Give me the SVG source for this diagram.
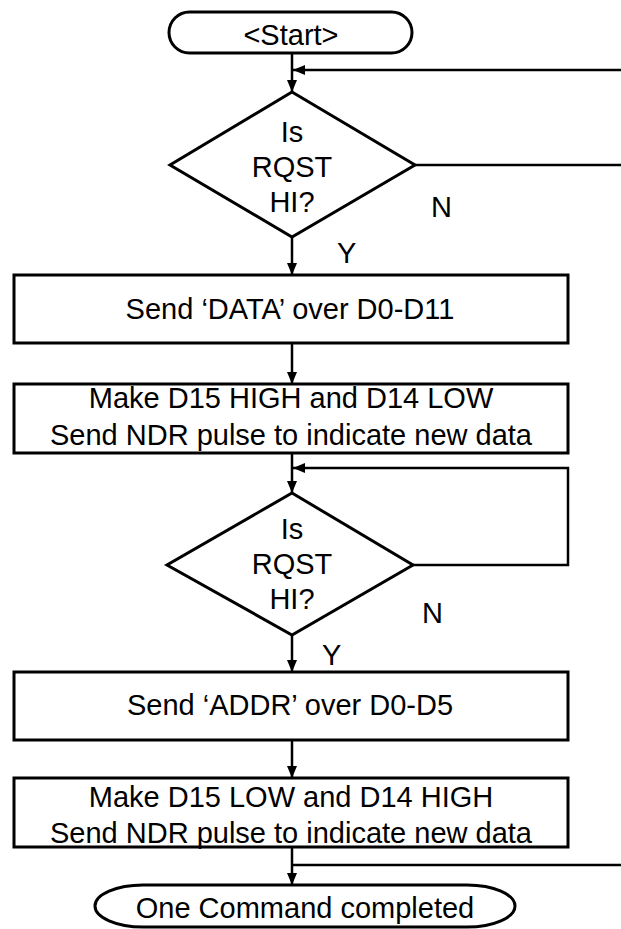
<svg xmlns="http://www.w3.org/2000/svg" width="621" height="929" viewBox="0 0 621 929">
<style>
.shape{fill:#fff;stroke:#000;stroke-width:3}
.conn{fill:none;stroke:#000;stroke-width:2.5}
text{font-family:"Liberation Sans",Arial,sans-serif;font-size:29px;fill:#000;text-anchor:middle}
.lbl{text-anchor:start}
</style>
<defs>
<marker id="arr" markerUnits="userSpaceOnUse" markerWidth="12" markerHeight="12" viewBox="0 0 12 12" refX="12" refY="6" orient="auto">
<path d="M0,1 L12,6 L0,11 z" fill="#000"/>
</marker>
</defs>
<rect width="621" height="929" fill="#fff"/>
<g id="connectors">
<path class="conn" d="M292,53 V92" marker-end="url(#arr)"/>
<path class="conn" d="M621,70 H293" marker-end="url(#arr)"/>
<path class="conn" d="M415,165 H621"/>
<path class="conn" d="M292,237 V275" marker-end="url(#arr)"/>
<path class="conn" d="M292,343 V384" marker-end="url(#arr)"/>
<path class="conn" d="M292,453 V493" marker-end="url(#arr)"/>
<path class="conn" d="M413,565 H568 V468 H293" marker-end="url(#arr)"/>
<path class="conn" d="M292,635 V672" marker-end="url(#arr)"/>
<path class="conn" d="M292,740 V778" marker-end="url(#arr)"/>
<path class="conn" d="M292,847 V885" marker-end="url(#arr)"/>
<path class="conn" d="M292,865 H621"/>
</g>
<g id="start">
<rect class="shape" x="169" y="12" width="243" height="41" rx="20.5" ry="20.5"/>
<text x="291" y="45">&lt;Start&gt;</text>
</g>
<g id="decision1">
<polygon class="shape" points="292,92 415,165 292,237 170,165"/>
<text x="292" y="142">Is</text>
<text x="292" y="177">RQST</text>
<text x="292" y="212">HI?</text>
<text class="lbl" x="431" y="217">N</text>
<text class="lbl" x="337" y="263">Y</text>
</g>
<g id="sendData">
<rect class="shape" x="14" y="275" width="554" height="68"/>
<text x="290" y="319">Send ‘DATA’ over D0-D11</text>
</g>
<g id="makeHigh">
<rect class="shape" x="14" y="384" width="554" height="69"/>
<text x="291" y="408">Make D15 HIGH and D14 LOW</text>
<text x="291" y="445">Send NDR pulse to indicate new data</text>
</g>
<g id="decision2">
<polygon class="shape" points="292,493 413,565 292,635 167,565"/>
<text x="292" y="539">Is</text>
<text x="292" y="574">RQST</text>
<text x="292" y="609">HI?</text>
<text class="lbl" x="422" y="623">N</text>
<text class="lbl" x="322" y="665">Y</text>
</g>
<g id="sendAddr">
<rect class="shape" x="14" y="672" width="554" height="68"/>
<text x="290" y="715">Send ‘ADDR’ over D0-D5</text>
</g>
<g id="makeLow">
<rect class="shape" x="14" y="778" width="554" height="69"/>
<text x="291" y="807">Make D15 LOW and D14 HIGH</text>
<text x="291" y="843">Send NDR pulse to indicate new data</text>
</g>
<g id="end">
<rect class="shape" x="95" y="885" width="420" height="42" rx="48" ry="21"/>
<text x="305" y="918">One Command completed</text>
</g>
</svg>
